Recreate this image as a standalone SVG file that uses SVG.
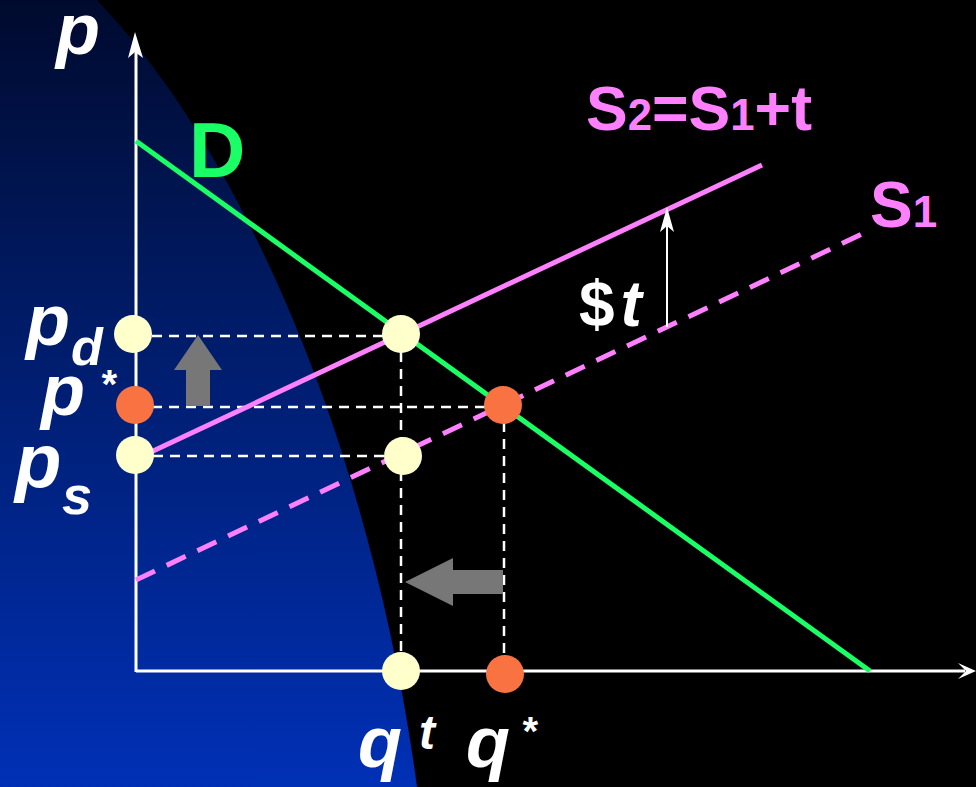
<svg xmlns="http://www.w3.org/2000/svg" width="976" height="787" viewBox="0 0 976 787">
<defs>
<linearGradient id="bg" x1="0" y1="0" x2="0" y2="1">
<stop offset="0" stop-color="#000a2e"/>
<stop offset="0.4" stop-color="#001b66"/>
<stop offset="1" stop-color="#0030b6"/>
</linearGradient>
</defs>
<style>
.ax{stroke:#fff;stroke-width:3;fill:none}
.guide{stroke:#fff;stroke-width:2.5;stroke-dasharray:10 7;fill:none}
.dem{stroke:#1aff66;stroke-width:5;fill:none}
.sup{stroke:#ff80ff;stroke-width:5;fill:none}
.supd{stroke:#ff80ff;stroke-width:5;stroke-dasharray:21 13;fill:none}
.yel{fill:#ffffcc}
.org{fill:#f97242}
.gray{fill:#777777}
.it{font-family:"Liberation Sans",Arial,sans-serif;font-weight:bold;font-style:italic;fill:#fff}
.bd{font-family:"Liberation Sans",Arial,sans-serif;font-weight:bold}
</style>
<rect width="976" height="787" fill="#000"/>
<path d="M0,0 L97,0 C240,150 370,440 417,787 L0,787 Z" fill="url(#bg)"/>

<g id="connectors">
<g id="guides">
<line class="guide" x1="152" y1="336" x2="392" y2="336"/>
<line class="guide" x1="152" y1="407" x2="490" y2="407"/>
<line class="guide" x1="136" y1="456" x2="403" y2="456"/>
<line class="guide" x1="401" y1="352" x2="401" y2="660"/>
<line class="guide" x1="504" y1="422" x2="504" y2="660"/>
</g>
<g id="axes">
<line class="ax" x1="136" y1="672" x2="136" y2="45"/>
<path d="M135,32 L143,58 L135,52 L128,58 Z" fill="#fff"/>
<line class="ax" x1="136" y1="671" x2="965" y2="671"/>
<path d="M976,671 L958,679 L966,671 L958,663 Z" fill="#fff"/>
</g>
<line id="demand" class="dem" x1="136" y1="141" x2="870" y2="671"/>
<line id="s2" class="sup" x1="136" y1="459" x2="762" y2="165"/>
<line id="s1" class="supd" x1="136" y1="580" x2="862" y2="234"/>
<g id="tax-arrow">
<line x1="667" y1="327" x2="667" y2="220" stroke="#fff" stroke-width="2"/>
<path d="M667,207 L674,232 L667,226 L660,232 Z" fill="#fff"/>
</g>
<path id="up-arrow" class="gray" d="M186,406 L210,406 L210,370 L222,370 L198,335 L174,370 L186,370 Z"/>
<path id="left-arrow" class="gray" d="M503,570 L503,594 L453,594 L453,606 L405,582 L453,558 L453,570 Z"/>
</g>

<g id="pd-dot"><circle class="yel" cx="133" cy="334" r="19"/></g>
<g id="pstar-dot"><circle class="org" cx="135" cy="405" r="19"/></g>
<g id="ps-dot"><circle class="yel" cx="135" cy="455" r="19"/></g>
<g id="tax-demand-point"><circle class="yel" cx="401" cy="334" r="19"/></g>
<g id="tax-supply-point"><circle class="yel" cx="403" cy="456" r="19"/></g>
<g id="equilibrium"><circle class="org" cx="503" cy="405" r="19"/></g>
<g id="qt-dot"><circle class="yel" cx="401" cy="671" r="19"/></g>
<g id="qstar-dot"><circle class="org" cx="505" cy="674" r="19"/></g>

<g id="labels">
<text class="it" x="56" y="54" font-size="72">p</text>
<text class="bd" x="189" y="177" font-size="78" fill="#1aff66">D</text>
<text class="bd" x="586" y="130" font-size="63" fill="#ff80ff" textLength="226" lengthAdjust="spacingAndGlyphs">S<tspan font-size="44">2</tspan>=S<tspan font-size="44">1</tspan>+t</text>
<text class="bd" x="870" y="227" font-size="64" fill="#ff80ff">S<tspan font-size="44">1</tspan></text>
<text class="bd" x="579" y="326" font-size="64" fill="#fff">$<tspan font-style="italic" dx="6">t</tspan></text>
<text class="it" x="26" y="345" font-size="72">p</text>
<text class="it" x="71" y="365" font-size="52">d</text>
<text class="it" x="100" y="398" font-size="40">*</text>
<text class="it" x="41" y="415" font-size="72">p</text>
<text class="it" x="15" y="487" font-size="76">p</text>
<text class="it" x="62" y="514" font-size="54">s</text>
<text class="it" x="358" y="767" font-size="72">q</text>
<text class="it" x="419" y="749" font-size="48">t</text>
<text class="it" x="466" y="767" font-size="72">q</text>
<text class="it" x="521" y="745" font-size="40">*</text>
<text class="it" x="974" y="790" font-size="72">q</text>
</g>
</svg>
